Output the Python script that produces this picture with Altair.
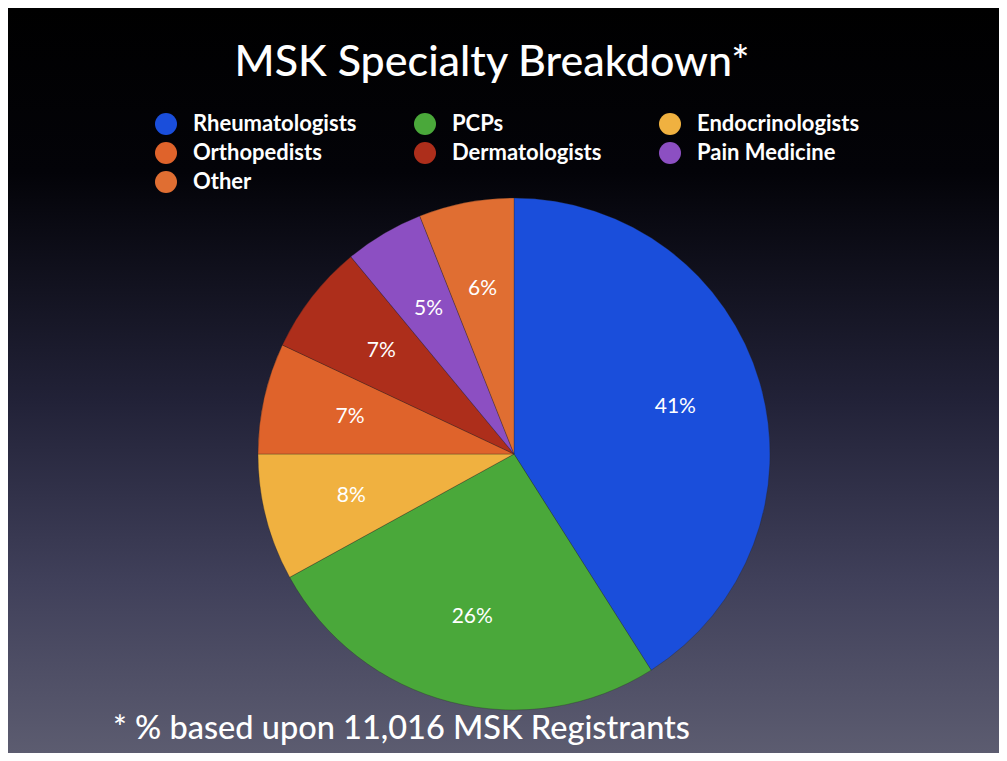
import altair as alt
import pandas as pd

categories = ["Rheumatologists", "PCPs", "Endocrinologists", "Orthopedists",
              "Dermatologists", "Pain Medicine", "Other"]
values = [41, 26, 8, 7, 7, 5, 6]
labels = ["41%", "26%", "8%", "7%", "7%", "5%", "6%"]
colors = ["#1a4edb", "#4aa83a", "#f0b140", "#df632b", "#ad2e1b", "#8c4fc2", "#e06e32"]
title_text = "MSK Specialty Breakdown*"
footnote_text = "* % based upon 11,016 MSK Registrants"

W, H = 991, 745
CX, CY, R = 506, 446, 256
FONT = "Lato"

df = pd.DataFrame({"category": categories, "value": values,
                   "label": labels, "idx": list(range(len(categories)))})

bg = alt.Chart(alt.Data(values=[{}])).mark_rect(
    fill=alt.Gradient(
        gradient="linear", x1=0, y1=0, x2=0, y2=1,
        stops=[alt.GradientStop(color="#000000", offset=0),
               alt.GradientStop(color="#030308", offset=0.22),
               alt.GradientStop(color="#222238", offset=0.53),
               alt.GradientStop(color="#40405a", offset=0.77),
               alt.GradientStop(color="#5c5c70", offset=1)]),
).encode(x=alt.value(0), x2=alt.value(W), y=alt.value(0), y2=alt.value(H))

base = alt.Chart(df)

pie = base.mark_arc(outerRadius=R, stroke="#222", strokeWidth=0.3).encode(
    theta=alt.Theta("value:Q", stack=True),
    order=alt.Order("idx:Q"),
    color=alt.Color("category:N",
                    scale=alt.Scale(domain=categories, range=colors),
                    sort=categories,
                    legend=alt.Legend(
                        title=None, orient="none", legendX=147, legendY=105,
                        columns=3, direction="horizontal", padding=0,
                        symbolType="circle", symbolSize=484,
                        symbolStrokeWidth=0, symbolOpacity=1,
                        labelColor="white", labelFont=FONT, labelFontSize=22,
                        labelFontWeight="bold",
                        labelOffset=16, columnPadding=57, rowPadding=7,
                        labelLimit=400)),
    x=alt.value(CX), y=alt.value(CY),
)

pct = base.mark_text(radius=168, color="white", font=FONT, fontSize=21).encode(
    theta=alt.Theta("value:Q", stack=True),
    order=alt.Order("idx:Q"),
    text="label:N",
    x=alt.value(CX), y=alt.value(CY),
)

title = alt.Chart(alt.Data(values=[{}])).mark_text(
    color="white", font=FONT, fontSize=43, fontWeight=500, align="center",
    baseline="alphabetic"
).encode(x=alt.value(484), y=alt.value(68), text=alt.value(title_text))

foot = alt.Chart(alt.Data(values=[{}])).mark_text(
    color="white", font=FONT, fontSize=32.5, fontWeight=500, align="left",
    baseline="alphabetic"
).encode(x=alt.value(105), y=alt.value(731), text=alt.value(footnote_text))

chart = alt.layer(bg, pie, pct, title, foot).properties(
    width=W, height=H,
    autosize=alt.AutoSizeParams(type="none"),
    padding=0,
).configure_view(stroke=None)

chart.save("out.html", embed_options={"renderer": "svg", "actions": False})
